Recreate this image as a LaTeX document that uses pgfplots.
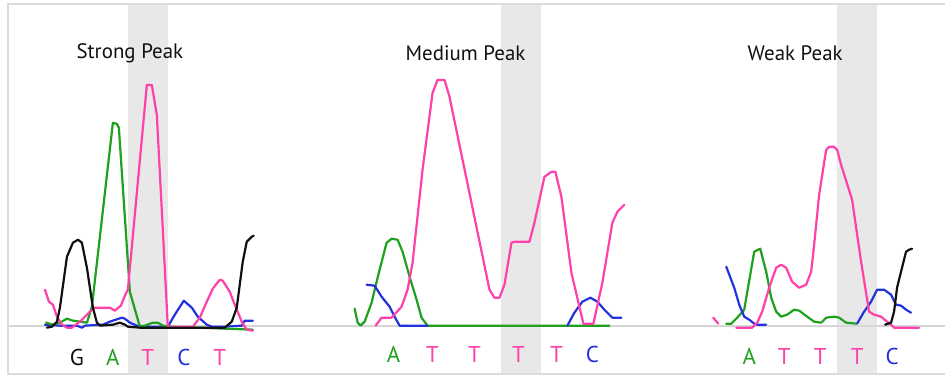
\documentclass[border=0pt]{standalone}
\usepackage{fontspec}
\setmainfont{PT Sans}
\usepackage{pgfplots}
\pgfplotsset{compat=1.18}
\definecolor{tpink}{HTML}{FF40AA}
\definecolor{tgreen}{HTML}{1FA01F}
\definecolor{tblue}{HTML}{2233DD}
\definecolor{tblack}{HTML}{111111}
\definecolor{band}{HTML}{E8E8E8}
\definecolor{frame}{HTML}{DCDCDC}
\definecolor{base}{HTML}{D6D6D6}
\begin{document}
\begin{tikzpicture}
\begin{axis}[
  scale only axis, width=946bp, height=376bp,
  xmin=0, xmax=946, ymin=0, ymax=376, y dir=reverse,
  hide axis, clip=false,
  trace/.style={line width=2.2bp, line join=round, line cap=round},
]
% background
\addplot[fill=white, draw=none] coordinates {(0,0)(946,0)(946,376)(0,376)};
% shaded bands
\addplot[fill=band, draw=none] coordinates {(128,4)(168,4)(168,375)(128,375)};
\addplot[fill=band, draw=none] coordinates {(502,4)(542,4)(542,375)(502,375)};
\addplot[fill=band, draw=none] coordinates {(838,4)(878,4)(878,375)(838,375)};
% frame
\addplot[frame, line width=2bp] coordinates {(946,4)(8,4)(8,374)(946,374)};
% baseline
\addplot[base, line width=2bp] coordinates {(8,326)(946,326)};

% ---------------- Strong peak ----------------
\addplot[trace, tblue] coordinates {(45,325)(60,326)(77,326)(82,328)(85,326)(103,325)(110,322)(122,318)(125,319)(130,323)(137,326)(150,327)(168,327)(175,315)(184,301)(192,308)(198,317)(207,325)(212,327)(225,327)(242,326)(245,321)(253,321)};
\addplot[trace, tgreen] coordinates {(46,323)(53,325)(60,323)(67,319)(73,321)(80,322)(87,323)(92,307)(113,123)(117,124)(119,128)(130,292)(140,327)(145,326)(153,323)(158,323)(163,326)(170,327)(253,330)};
\addplot[trace, tpink] coordinates {(45,290)(49,302)(53,305)(57,317)(62,325)(67,328)(72,328)(80,322)(90,312)(95,308)(110,308)(115,311)(121,306)(125,296)(128,290)(147,85)(152,85)(157,115)(168,327)(193,327)(200,318)(207,302)(213,289)(220,280)(223,281)(230,292)(235,305)(242,322)(247,330)(253,331)};
\addplot[trace, tblack] coordinates {(47,328)(52,327)(57,322)(60,308)(67,257)(73,243)(78,240)(82,243)(87,268)(93,308)(97,323)(100,326)(113,325)(120,323)(125,325)(128,327)(140,328)(225,328)(232,322)(237,308)(243,262)(247,242)(252,237)(254,236)};

% ---------------- Medium peak ----------------
\addplot[trace, tgreen] coordinates {(355,309)(358,323)(361,326)(365,322)(372,303)(378,278)(387,243)(392,239)(398,240)(403,252)(410,277)(417,300)(422,318)(428,326)(610,326)};
\addplot[trace, tblue] coordinates {(367,285)(375,286)(382,297)(390,307)(395,317)(400,326)(428,326)};
\addplot[trace, tblue] coordinates {(568,326)(575,313)(583,302)(591,298)(598,302)(605,310)(613,318)(622,318)};
\addplot[trace, tpink] coordinates {(376,326)(382,318)(392,318)(402,307)(408,290)(413,263)(423,170)(433,93)(438,80)(445,80)(450,97)(490,290)(495,298)(500,298)(505,285)(512,243)(515,242)(530,242)(535,223)(545,177)(552,172)(556,172)(562,197)(572,273)(584,324)(594,324)(603,283)(613,223)(618,212)(625,205)};

% ---------------- Weak peak ----------------
\addplot[trace, tpink] coordinates {(714,318)(719,324)};
\addplot[trace, tgreen] coordinates {(727,324)(732,324)(738,318)(745,310)(755,252)(761,249)(767,272)(772,298)(777,312)(782,317)(788,315)(795,310)(800,311)(808,317)(815,322)(822,323)(827,318)(835,317)(840,318)(847,323)(857,324)};
\addplot[trace, tblue] coordinates {(727,267)(735,288)(740,305)(745,317)(750,320)(755,324)(758,325)(767,325)};
\addplot[trace, tblue] coordinates {(858,324)(865,312)(872,302)(878,290)(885,290)(892,295)(897,305)(902,306)(907,310)(912,313)};
\addplot[trace, tpink] coordinates {(737,328)(753,328)(758,323)(763,312)(770,288)(777,268)(782,265)(787,268)(793,282)(800,288)(807,285)(812,272)(815,245)(820,195)(827,150)(830,147)(835,147)(838,150)(842,165)(853,200)(862,262)(870,312)(875,315)(882,317)(888,322)(892,325)(895,328)(920,328)};
\addplot[trace, tblack] coordinates {(886,325)(892,323)(895,312)(898,288)(903,268)(907,252)(910,250)(913,249)};

% titles
\node[font=\fontsize{21}{24}\selectfont, text=tblack] at (axis cs:130,53) {Strong Peak};
\node[font=\fontsize{21}{24}\selectfont, text=tblack] at (axis cs:466,53) {Medium Peak};
\node[font=\fontsize{21}{24}\selectfont, text=tblack] at (axis cs:796,53) {Weak Peak};

% base calls
\begin{scope}[every node/.style={font=\fontsize{23}{26}\selectfont}]
\node[text=tblack] at (axis cs:77,358) {G};
\node[text=tgreen] at (axis cs:113,358) {A};
\node[text=tpink] at (axis cs:148,358) {T};
\node[text=tblue] at (axis cs:184,358) {C};
\node[text=tpink] at (axis cs:220,358) {T};

\node[text=tgreen] at (axis cs:394,355) {A};
\node[text=tpink] at (axis cs:433,355) {T};
\node[text=tpink] at (axis cs:475,355) {T};
\node[text=tpink] at (axis cs:519,355) {T};
\node[text=tpink] at (axis cs:557,355) {T};
\node[text=tblue] at (axis cs:593,355) {C};

\node[text=tgreen] at (axis cs:750,357) {A};
\node[text=tpink] at (axis cs:785,357) {T};
\node[text=tpink] at (axis cs:821,357) {T};
\node[text=tpink] at (axis cs:858,357) {T};
\node[text=tblue] at (axis cs:893,357) {C};
\end{scope}
\end{axis}
\end{tikzpicture}
\end{document}
